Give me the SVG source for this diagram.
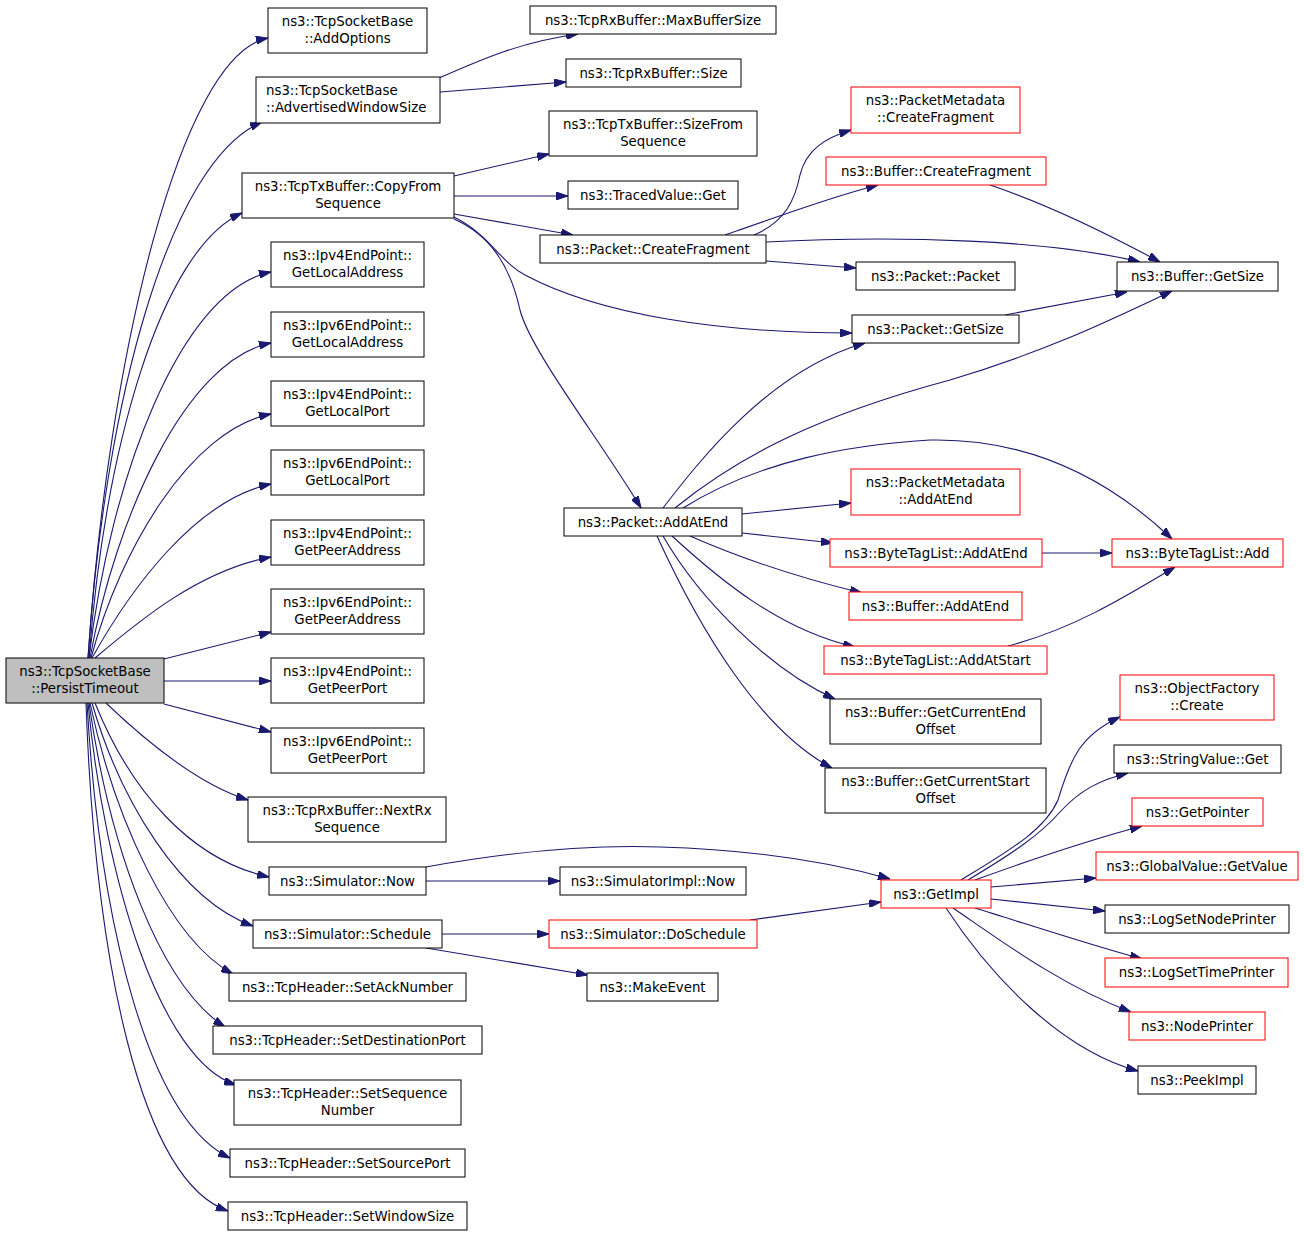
<svg xmlns="http://www.w3.org/2000/svg" width="1304" height="1237" viewBox="0 0 1304 1237">
<style>
.b{fill:#ffffff;stroke:#000000;stroke-width:1}
.r{fill:#ffffff;stroke:#ff0000;stroke-width:1}
.g{fill:#bfbfbf;stroke:#000000;stroke-width:1}
text{font-family:"DejaVu Sans","Liberation Sans",sans-serif;font-size:13.33px;fill:#000000;text-anchor:middle}
.l{text-anchor:start}
.e path{fill:none;stroke:#191970;stroke-width:1.1;marker-end:url(#ah)}
</style>
<defs>
<marker id="ah" viewBox="0 0 12 8" refX="12" refY="4" markerWidth="12" markerHeight="8" markerUnits="userSpaceOnUse" orient="auto">
<polygon points="0,0 12,4 0,8" fill="#191970" stroke="#191970"/>
</marker>
</defs>
<rect x="0" y="0" width="1304" height="1237" fill="#ffffff"/>
<g id="connectors" class="e">
<path d="M88,658 C108,360 180,55 268,38"/>
<path d="M88,658 C105,400 170,160 262,122"/>
<path d="M89,658 C105,450 160,250 242,213"/>
<path d="M89,658 C110,480 180,290 271,272"/>
<path d="M90,658 C115,520 185,360 271,343"/>
<path d="M91,658 C120,550 190,430 271,414"/>
<path d="M92,658 C130,590 195,500 271,484"/>
<path d="M95,658 C140,620 200,570 271,557"/>
<path d="M164,659 L271,632"/>
<path d="M164,681 L271,681"/>
<path d="M164,704 L271,732"/>
<path d="M106,703 C150,745 200,785 248,800"/>
<path d="M95,703 C130,790 190,860 269,877"/>
<path d="M92,703 C120,800 180,900 253,926"/>
<path d="M90,703 C115,820 170,940 233,974"/>
<path d="M89,703 C110,850 160,985 225,1027"/>
<path d="M88,703 C105,880 160,1060 236,1085"/>
<path d="M87,703 C100,930 150,1120 230,1158"/>
<path d="M86,703 C95,960 140,1180 228,1211"/>
<path d="M439,78 C480,60 520,42 578,34"/>
<path d="M440,92 L566,82"/>
<path d="M454,176 L549,154"/>
<path d="M454,196 L568,196"/>
<path d="M454,214 L573,235"/>
<path d="M454,217 C490,235 500,262 525,275 C600,315 720,333 852,333"/>
<path d="M454,219 C490,235 510,265 520,310 C530,350 600,440 641,508"/>
<path d="M754,235 C785,222 795,200 800,175 C806,150 825,138 851,130"/>
<path d="M725,235 C770,220 820,200 878,185"/>
<path d="M766,242 C900,235 1050,240 1140,262"/>
<path d="M766,261 L856,268"/>
<path d="M990,185 C1050,205 1110,235 1160,262"/>
<path d="M1005,315 L1127,292"/>
<path d="M663,508 C700,460 770,370 865,343"/>
<path d="M675,508 C740,455 820,415 950,380 C1050,350 1110,320 1172,291"/>
<path d="M683,508 C760,460 850,445 930,440 C1030,438 1110,480 1172,539"/>
<path d="M742,514 L851,503"/>
<path d="M742,533 L833,543"/>
<path d="M690,536 C740,558 800,578 862,593"/>
<path d="M672,536 C720,580 780,630 855,647"/>
<path d="M663,536 C700,600 770,670 835,699"/>
<path d="M657,536 C700,630 760,730 832,768"/>
<path d="M1042,553 L1112,553"/>
<path d="M1008,646 C1070,630 1120,600 1175,567"/>
<path d="M426,881 L560,881"/>
<path d="M426,867 C520,850 600,845 660,847 C760,850 830,862 890,879"/>
<path d="M442,934 L549,934"/>
<path d="M426,948 L588,975"/>
<path d="M750,920 L881,902"/>
<path d="M961,880 C1010,850 1045,830 1058,800 C1070,760 1080,735 1120,717"/>
<path d="M968,880 C1010,855 1040,835 1060,812 C1080,790 1100,780 1128,773"/>
<path d="M975,880 C1030,860 1090,840 1142,826"/>
<path d="M991,887 L1096,878"/>
<path d="M991,899 L1105,911"/>
<path d="M975,908 C1030,925 1090,945 1142,959"/>
<path d="M953,908 C1000,940 1060,985 1131,1012"/>
<path d="M946,908 C990,975 1060,1050 1138,1071"/>
</g>
<g id="root"><rect class="g" x="6" y="658" width="158" height="45"/><text x="85" y="676">ns3::TcpSocketBase</text><text x="85" y="693">::PersistTimeout</text></g>
<g id="n1"><rect class="b" x="268" y="8" width="159" height="45"/><text x="347.5" y="26">ns3::TcpSocketBase</text><text x="347.5" y="43">::AddOptions</text></g>
<g id="n2"><rect class="b" x="256" y="77" width="184" height="46"/><text class="l" x="266" y="95">ns3::TcpSocketBase</text><text class="l" x="266" y="112">::AdvertisedWindowSize</text></g>
<g id="n3"><rect class="b" x="242" y="173" width="212" height="45"/><text x="348" y="191">ns3::TcpTxBuffer::CopyFrom</text><text x="348" y="208">Sequence</text></g>
<g id="n4"><rect class="b" x="271" y="242" width="153" height="45"/><text x="347.5" y="260">ns3::Ipv4EndPoint::</text><text x="347.5" y="277">GetLocalAddress</text></g>
<g id="n5"><rect class="b" x="271" y="312" width="153" height="45"/><text x="347.5" y="330">ns3::Ipv6EndPoint::</text><text x="347.5" y="347">GetLocalAddress</text></g>
<g id="n6"><rect class="b" x="271" y="381" width="153" height="45"/><text x="347.5" y="399">ns3::Ipv4EndPoint::</text><text x="347.5" y="416">GetLocalPort</text></g>
<g id="n7"><rect class="b" x="271" y="450" width="153" height="45"/><text x="347.5" y="468">ns3::Ipv6EndPoint::</text><text x="347.5" y="485">GetLocalPort</text></g>
<g id="n8"><rect class="b" x="271" y="520" width="153" height="45"/><text x="347.5" y="538">ns3::Ipv4EndPoint::</text><text x="347.5" y="555">GetPeerAddress</text></g>
<g id="n9"><rect class="b" x="271" y="589" width="153" height="45"/><text x="347.5" y="607">ns3::Ipv6EndPoint::</text><text x="347.5" y="624">GetPeerAddress</text></g>
<g id="n10"><rect class="b" x="271" y="658" width="153" height="45"/><text x="347.5" y="676">ns3::Ipv4EndPoint::</text><text x="347.5" y="693">GetPeerPort</text></g>
<g id="n11"><rect class="b" x="271" y="728" width="153" height="45"/><text x="347.5" y="746">ns3::Ipv6EndPoint::</text><text x="347.5" y="763">GetPeerPort</text></g>
<g id="n12"><rect class="b" x="248" y="797" width="198" height="45"/><text x="347" y="815">ns3::TcpRxBuffer::NextRx</text><text x="347" y="832">Sequence</text></g>
<g id="n13"><rect class="b" x="269" y="867" width="157" height="28"/><text x="347.5" y="886">ns3::Simulator::Now</text></g>
<g id="n14"><rect class="b" x="253" y="920" width="189" height="28"/><text x="347.5" y="939">ns3::Simulator::Schedule</text></g>
<g id="n15"><rect class="b" x="229" y="973" width="237" height="28"/><text x="347.5" y="992">ns3::TcpHeader::SetAckNumber</text></g>
<g id="n16"><rect class="b" x="213" y="1026" width="269" height="28"/><text x="347.5" y="1045">ns3::TcpHeader::SetDestinationPort</text></g>
<g id="n17"><rect class="b" x="234" y="1080" width="227" height="45"/><text x="347.5" y="1098">ns3::TcpHeader::SetSequence</text><text x="347.5" y="1115">Number</text></g>
<g id="n18"><rect class="b" x="230" y="1149" width="235" height="28"/><text x="347.5" y="1168">ns3::TcpHeader::SetSourcePort</text></g>
<g id="n19"><rect class="b" x="228" y="1202" width="239" height="28"/><text x="347.5" y="1221">ns3::TcpHeader::SetWindowSize</text></g>
<g id="n20"><rect class="b" x="530" y="6" width="246" height="28"/><text x="653" y="25">ns3::TcpRxBuffer::MaxBufferSize</text></g>
<g id="n21"><rect class="b" x="566" y="59" width="175" height="28"/><text x="653.5" y="78">ns3::TcpRxBuffer::Size</text></g>
<g id="n22"><rect class="b" x="549" y="111" width="208" height="45"/><text x="653" y="129">ns3::TcpTxBuffer::SizeFrom</text><text x="653" y="146">Sequence</text></g>
<g id="n23"><rect class="b" x="568" y="181" width="170" height="28"/><text x="653" y="200">ns3::TracedValue::Get</text></g>
<g id="n24"><rect class="b" x="540" y="235" width="226" height="28"/><text x="653" y="254">ns3::Packet::CreateFragment</text></g>
<g id="n25"><rect class="b" x="564" y="508" width="178" height="28"/><text x="653" y="527">ns3::Packet::AddAtEnd</text></g>
<g id="n26"><rect class="b" x="560" y="867" width="186" height="28"/><text x="653" y="886">ns3::SimulatorImpl::Now</text></g>
<g id="n27"><rect class="r" x="549" y="920" width="208" height="28"/><text x="653" y="939">ns3::Simulator::DoSchedule</text></g>
<g id="n28"><rect class="b" x="587" y="973" width="131" height="28"/><text x="652.5" y="992">ns3::MakeEvent</text></g>
<g id="n29"><rect class="r" x="851" y="87" width="169" height="46"/><text x="935.5" y="105">ns3::PacketMetadata</text><text x="935.5" y="122">::CreateFragment</text></g>
<g id="n30"><rect class="r" x="826" y="157" width="220" height="28"/><text x="936" y="176">ns3::Buffer::CreateFragment</text></g>
<g id="n31"><rect class="b" x="856" y="262" width="159" height="28"/><text x="935.5" y="281">ns3::Packet::Packet</text></g>
<g id="n32"><rect class="b" x="852" y="315" width="167" height="28"/><text x="935.5" y="334">ns3::Packet::GetSize</text></g>
<g id="n33"><rect class="r" x="851" y="469" width="169" height="46"/><text x="935.5" y="487">ns3::PacketMetadata</text><text x="935.5" y="504">::AddAtEnd</text></g>
<g id="n34"><rect class="r" x="830" y="539" width="212" height="28"/><text x="936" y="558">ns3::ByteTagList::AddAtEnd</text></g>
<g id="n35"><rect class="r" x="849" y="592" width="173" height="28"/><text x="935.5" y="611">ns3::Buffer::AddAtEnd</text></g>
<g id="n36"><rect class="r" x="824" y="646" width="223" height="28"/><text x="935.5" y="665">ns3::ByteTagList::AddAtStart</text></g>
<g id="n37"><rect class="b" x="830" y="699" width="211" height="45"/><text x="935.5" y="717">ns3::Buffer::GetCurrentEnd</text><text x="935.5" y="734">Offset</text></g>
<g id="n38"><rect class="b" x="825" y="768" width="221" height="45"/><text x="935.5" y="786">ns3::Buffer::GetCurrentStart</text><text x="935.5" y="803">Offset</text></g>
<g id="n39"><rect class="r" x="881" y="880" width="110" height="28"/><text x="936" y="899">ns3::GetImpl</text></g>
<g id="n40"><rect class="b" x="1117" y="262" width="161" height="29"/><text x="1197.5" y="281">ns3::Buffer::GetSize</text></g>
<g id="n41"><rect class="r" x="1112" y="539" width="171" height="28"/><text x="1197.5" y="558">ns3::ByteTagList::Add</text></g>
<g id="n42"><rect class="r" x="1120" y="675" width="154" height="45"/><text x="1197" y="693">ns3::ObjectFactory</text><text x="1197" y="710">::Create</text></g>
<g id="n43"><rect class="b" x="1114" y="745" width="167" height="28"/><text x="1197.5" y="764">ns3::StringValue::Get</text></g>
<g id="n44"><rect class="r" x="1132" y="798" width="131" height="28"/><text x="1197.5" y="817">ns3::GetPointer</text></g>
<g id="n45"><rect class="r" x="1096" y="852" width="202" height="28"/><text x="1197" y="871">ns3::GlobalValue::GetValue</text></g>
<g id="n46"><rect class="b" x="1105" y="905" width="184" height="28"/><text x="1197" y="924">ns3::LogSetNodePrinter</text></g>
<g id="n47"><rect class="r" x="1105" y="958" width="183" height="29"/><text x="1196.5" y="977">ns3::LogSetTimePrinter</text></g>
<g id="n48"><rect class="r" x="1129" y="1012" width="136" height="28"/><text x="1197" y="1031">ns3::NodePrinter</text></g>
<g id="n49"><rect class="b" x="1138" y="1066" width="118" height="28"/><text x="1197" y="1085">ns3::PeekImpl</text></g>
</svg>
